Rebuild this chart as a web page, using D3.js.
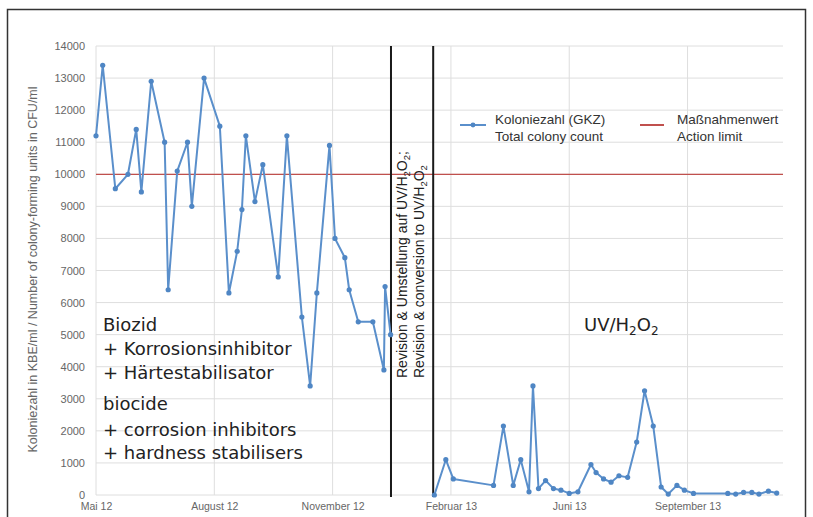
<!DOCTYPE html>
<html><head><meta charset="utf-8">
<script src="https://cdn.jsdelivr.net/npm/d3@7"></script>
<style>
body{margin:0;background:#fff;}
svg{display:block;font-family:"Liberation Sans",Arial,sans-serif;}
</style></head>
<body><svg id="c" width="813" height="517"></svg>
<script>
// ---- data ----
const xTickValues = [0, 3, 6, 9, 12, 15];
const xTickLabels = ["Mai 12", "August 12", "November 12", "Februar 13", "Juni 13", "September 13"];
const yTickValues = [0,1000,2000,3000,4000,5000,6000,7000,8000,9000,10000,11000,12000,13000,14000];
// axis position in months from "Mai 12" (axis is evenly spaced per label)
const biocideT = [0,0.17,0.49,0.81,1.02,1.15,1.40,1.74,1.83,2.06,2.32,2.43,2.74,3.14,3.37,3.58,3.70,3.80,4.03,4.23,4.62,4.84,5.22,5.43,5.60,5.92,6.06,6.31,6.42,6.65,7.02,7.30,7.33,7.47];
const biocideValues = [11200,13400,9550,10000,11400,9450,12900,11000,6400,10100,11000,9000,13000,11500,6300,7600,8900,11200,9150,10300,6800,11200,5550,3400,6300,10900,8000,7400,6400,5400,5400,3900,6500,5000];
const uvT = [8.58,8.87,9.06,10.08,10.33,10.58,10.77,10.98,11.08,11.22,11.40,11.60,11.79,12.00,12.22,12.55,12.68,12.87,13.06,13.26,13.48,13.71,13.91,14.13,14.33,14.51,14.73,14.92,15.15,16.02,16.22,16.42,16.63,16.81,17.05,17.26];
const uvValues = [0,1100,500,300,2150,300,1100,100,3400,200,450,200,150,50,100,950,700,500,400,600,550,1650,3250,2150,250,30,300,150,50,50,30,80,80,30,120,60];
const actionLimit = 10000;
const revisionBounds = [7.48, 8.55];
const seriesNames = [["Koloniezahl (GKZ)", "Total colony count"], ["Maßnahmenwert", "Action limit"]];
const yTitle = "Koloniezahl in KBE/ml / Number of colony-forming units in CFU/ml";
const leftNote = ["Biozid", "+ Korrosionsinhibitor", "+ Härtestabilisator", "biocide", "+ corrosion inhibitors", "+ hardness stabilisers"];
const revNote = [["Revision & Umstellung auf UV/H", "2", "O", "2", ";"], ["Revision & conversion to UV/H", "2", "O", "2", ""]];

// ---- drawing ----
const svg = d3.select("#c");
const blue = "#5a8fcb", red = "#c0504d";
const x = d3.scaleLinear().domain([0, 17.42]).range([96, 783]);
const y = d3.scaleLinear().domain([0, 14000]).range([495, 46]);

// frame
svg.append("rect").attr("x", 7.5).attr("y", 9.5).attr("width", 798).attr("height", 530)
  .attr("fill", "none").attr("stroke", "#333").attr("stroke-width", 1.5);

// grid
svg.append("g").selectAll("line").data(yTickValues).join("line")
  .attr("x1", x.range()[0]).attr("x2", x.range()[1])
  .attr("y1", d => y(d)).attr("y2", d => y(d))
  .attr("stroke", "#dedede").attr("stroke-width", 1);
svg.append("g").selectAll("line").data(xTickValues).join("line")
  .attr("x1", d => x(d)).attr("x2", d => x(d))
  .attr("y1", y(0)).attr("y2", y(14000))
  .attr("stroke", "#dedede").attr("stroke-width", 1);

// axes (labels only)
const yAxis = svg.append("g").attr("transform", `translate(${x.range()[0]},0)`)
  .call(d3.axisLeft(y).tickValues(yTickValues).tickFormat(d3.format("d")).tickSize(0).tickPadding(11));
yAxis.select(".domain").remove();
yAxis.selectAll("text").attr("font-size", 11).attr("fill", "#666").attr("font-family", "Liberation Sans, Arial, sans-serif");

const xAxis = svg.append("g").attr("transform", `translate(0,${y(0)})`)
  .call(d3.axisBottom(x).tickValues(xTickValues).tickFormat((d, i) => xTickLabels[i]).tickSize(0).tickPadding(8));
xAxis.select(".domain").remove();
xAxis.selectAll("text").attr("font-size", 10.5).attr("fill", "#666").attr("font-family", "Liberation Sans, Arial, sans-serif");

// y title
svg.append("text").attr("transform", `translate(37,${(y(0)+y(14000))/2 - 1}) rotate(-90)`)
  .attr("text-anchor", "middle").attr("font-size", 12.5).attr("fill", "#666").text(yTitle);

// action limit
svg.append("line").attr("x1", x.range()[0]).attr("x2", x.range()[1])
  .attr("y1", y(actionLimit)).attr("y2", y(actionLimit))
  .attr("stroke", red).attr("stroke-width", 1.2);

// revision lines
svg.append("g").selectAll("line").data(revisionBounds).join("line")
  .attr("x1", d => x(d)).attr("x2", d => x(d))
  .attr("y1", y(14000)).attr("y2", y(0) + 2)
  .attr("stroke", "#1a1a1a").attr("stroke-width", 2);

// revision text
revNote.forEach((parts, i) => {
  const t = svg.append("text")
    .attr("transform", `translate(${x(revisionBounds[0]) + 16 + i * 17},378) rotate(-90)`)
    .attr("font-size", 14).attr("fill", "#222");
  t.append("tspan").text(parts[0]);
  t.append("tspan").attr("font-size", 9.5).attr("dy", 3).text(parts[1]);
  t.append("tspan").attr("dy", -3).text(parts[2]);
  t.append("tspan").attr("font-size", 9.5).attr("dy", 3).text(parts[3]);
  t.append("tspan").attr("dy", -3).text(parts[4]);
});

// series
const line = d3.line().x(d => x(d[0])).y(d => y(d[1]));
[[biocideT, biocideValues], [uvT, uvValues]].forEach(([ts, vs]) => {
  const pts = ts.map((t, i) => [t, vs[i]]);
  svg.append("path").datum(pts).attr("d", line)
    .attr("fill", "none").attr("stroke", blue).attr("stroke-width", 2).attr("stroke-linejoin", "round");
  svg.append("g").selectAll("circle").data(pts).join("circle")
    .attr("cx", d => x(d[0])).attr("cy", d => y(d[1])).attr("r", 2.6)
    .attr("fill", "#4f86c4");
});

// legend
const lg = svg.append("g");
lg.append("line").attr("x1", 460).attr("x2", 486).attr("y1", 125).attr("y2", 125).attr("stroke", blue).attr("stroke-width", 2);
lg.append("circle").attr("cx", 473).attr("cy", 125).attr("r", 2.4).attr("fill", "#4f86c4");
lg.append("line").attr("x1", 640).attr("x2", 664).attr("y1", 125).attr("y2", 125).attr("stroke", red).attr("stroke-width", 2);
[[495, seriesNames[0]], [677, seriesNames[1]]].forEach(([lx, names]) => {
  names.forEach((n, i) => {
    lg.append("text").attr("x", lx).attr("y", 124 + i * 17).attr("font-size", 13.5).attr("fill", "#333").text(n);
  });
});

// left annotation
const noteY = [331, 355, 379, 410, 436, 459];
leftNote.forEach((s, i) => {
  svg.append("text").attr("x", 103).attr("y", noteY[i]).attr("font-size", 18)
    .attr("font-family", "DejaVu Sans, Verdana, sans-serif").attr("fill", "#222").text(s);
});

// UV/H2O2
const uv = svg.append("text").attr("x", 584).attr("y", 331).attr("font-size", 18)
  .attr("font-family", "DejaVu Sans, Verdana, sans-serif").attr("fill", "#222");
uv.append("tspan").text("UV/H");
uv.append("tspan").attr("font-size", 12).attr("dy", 4).text("2");
uv.append("tspan").attr("dy", -4).text("O");
uv.append("tspan").attr("font-size", 12).attr("dy", 4).text("2");
</script></body></html>
